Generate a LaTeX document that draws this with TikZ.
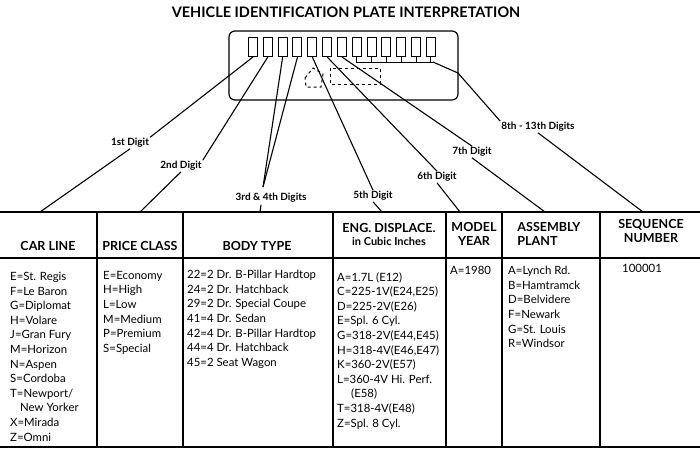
\documentclass[tikz,border=0pt]{standalone}
\usepackage{fontspec}
\setmainfont{Lato}
\begin{document}
\begin{tikzpicture}[x=1pt,y=-1pt,
  ln/.style={line width=1.1pt},
  dig/.style={font=\bfseries\fontsize{10}{12}\selectfont, inner sep=1pt},
  hd/.style={font=\bfseries\fontsize{12.5}{14}\selectfont, align=center, inner sep=0pt},
  ent/.style={font=\fontsize{11.4}{14.6}\selectfont, align=left, anchor=north west, inner sep=0pt},
  sq/.style={draw, line width=1pt, minimum width=9pt, minimum height=19pt, inner sep=0pt, anchor=north}]
\useasboundingbox (0,0) rectangle (700,451);
\node[font=\bfseries\fontsize{14.5}{16}\selectfont] (title) at (346,12) {VEHICLE IDENTIFICATION PLATE INTERPRETATION};
% plate
\draw[line width=1.2pt, rounded corners=6pt] (229,31) rectangle (458,100);
\foreach \i in {1,...,13} {
  \node[sq] (b\i) at ({253+14.83*(\i-1)},37) {};
}
\foreach \i in {8,...,13} { \draw[line width=1pt] (b\i.south) -- ++(0,6); }
\coordinate (br1) at (357,62);
\coordinate (br2) at (433,62);
\draw[line width=1pt] (br1) -- (br2);
\draw[dashed, line width=1pt] (305,78) -- (313,68) -- (323,74) -- (321,87) -- (306,87) -- cycle;
\draw[dashed, line width=1pt] (330,68) rectangle (380,84);
% labels
\node[dig] (l1) at (130,143) {1st Digit};
\node[dig] (l2) at (181,166) {2nd Digit};
\node[dig] (l34) at (271,198) {3rd \& 4th Digits};
\node[dig] (l5) at (373,196) {5th Digit};
\node[dig] (l6) at (437,177) {6th Digit};
\node[dig] (l7) at (472,152) {7th Digit};
\node[dig] (l8) at (538,127) {8th - 13th Digits};
% ends
\coordinate (e1) at (40,212);
\coordinate (e2) at (140,212);
\coordinate (e34) at (260,212);
\coordinate (c34) at (263,187);
\coordinate (e5) at (382,212);
\coordinate (e6) at (460,212);
\coordinate (e7) at (545,212);
\coordinate (e8) at (643,212);
\draw[ln] (b1.south) -- (l1.north east);
\draw[ln] (l1.south) -- (e1);
\draw[ln] (b2.south) -- (l2.north east);
\draw[ln] (l2.south) -- (e2);
\draw[ln] (b3.south) -- (c34);
\draw[ln] (b4.south) -- (c34);
\draw[ln] (l34.south) ++(-10,1) -- (e34);
\draw[ln] (b5.south) -- (l5.north);
\draw[ln] (l5.south) -- (e5);
\draw[ln] (b6.south) -- (l6.north);
\draw[ln] (l6.south) -- (e6);
\draw[ln] (b7.south) -- (l7.north);
\draw[ln] (l7.south) -- (e7);
\draw[ln] (br2) -- (458,73) -- (l8.north west);
\draw[ln] (l8.south) -- (e8);
% table
\draw[line width=1.3pt] (0,212) -- (700,212);
\draw[line width=1.1pt] (0,258) -- (700,258);
\draw[line width=1.1pt] (0,447) -- (700,447);
\foreach \x in {97,183,333,446,502,600} { \draw[line width=1.1pt] (\x,212) -- (\x,447); }
\node[hd] (h1) at (48,246) {CAR LINE};
\node[hd] (h2) at (140,246) {PRICE CLASS};
\node[hd] (h3) at (257,246) {BODY TYPE};
\node[hd] (h4) at (389,234) {ENG. DISPLACE.\\[-1pt]{\fontsize{11}{12}\selectfont in Cubic Inches}};
\node[hd] (h5) at (474,234) {MODEL\\YEAR};
\node[hd, align=left] (h6) at (549,234) {ASSEMBLY\\PLANT};
\node[hd] (h7) at (651,231) {SEQUENCE\\NUMBER};
\node[ent] (t1) at (10,272) {E=St. Regis\\F=Le Baron\\G=Diplomat\\H=Volare\\J=Gran Fury\\M=Horizon\\N=Aspen\\S=Cordoba\\T=Newport/\\\hspace*{10pt}New Yorker\\X=Mirada\\Z=Omni};
\node[ent] (t2) at (103,271) {E=Economy\\H=High\\L=Low\\M=Medium\\P=Premium\\S=Special};
\node[ent] (t3) at (187,270) {22=2 Dr. B-Pillar Hardtop\\24=2 Dr. Hatchback\\29=2 Dr. Special Coupe\\41=4 Dr. Sedan\\42=4 Dr. B-Pillar Hardtop\\44=4 Dr. Hatchback\\45=2 Seat Wagon};
\node[ent] (t4) at (337,272) {A=1.7L (E12)\\C=225-1V(E24,E25)\\D=225-2V(E26)\\E=Spl. 6 Cyl.\\G=318-2V(E44,E45)\\H=318-4V(E46,E47)\\K=360-2V(E57)\\L=360-4V Hi. Perf.\\\hspace*{14pt}(E58)\\T=318-4V(E48)\\Z=Spl. 8 Cyl.};
\node[ent] (t5) at (450,266) {A=1980};
\node[ent] (t6) at (508,266) {A=Lynch Rd.\\B=Hamtramck\\D=Belvidere\\F=Newark\\G=St. Louis\\R=Windsor};
\node[ent] (t7) at (622,264) {100001};
\end{tikzpicture}
\end{document}
